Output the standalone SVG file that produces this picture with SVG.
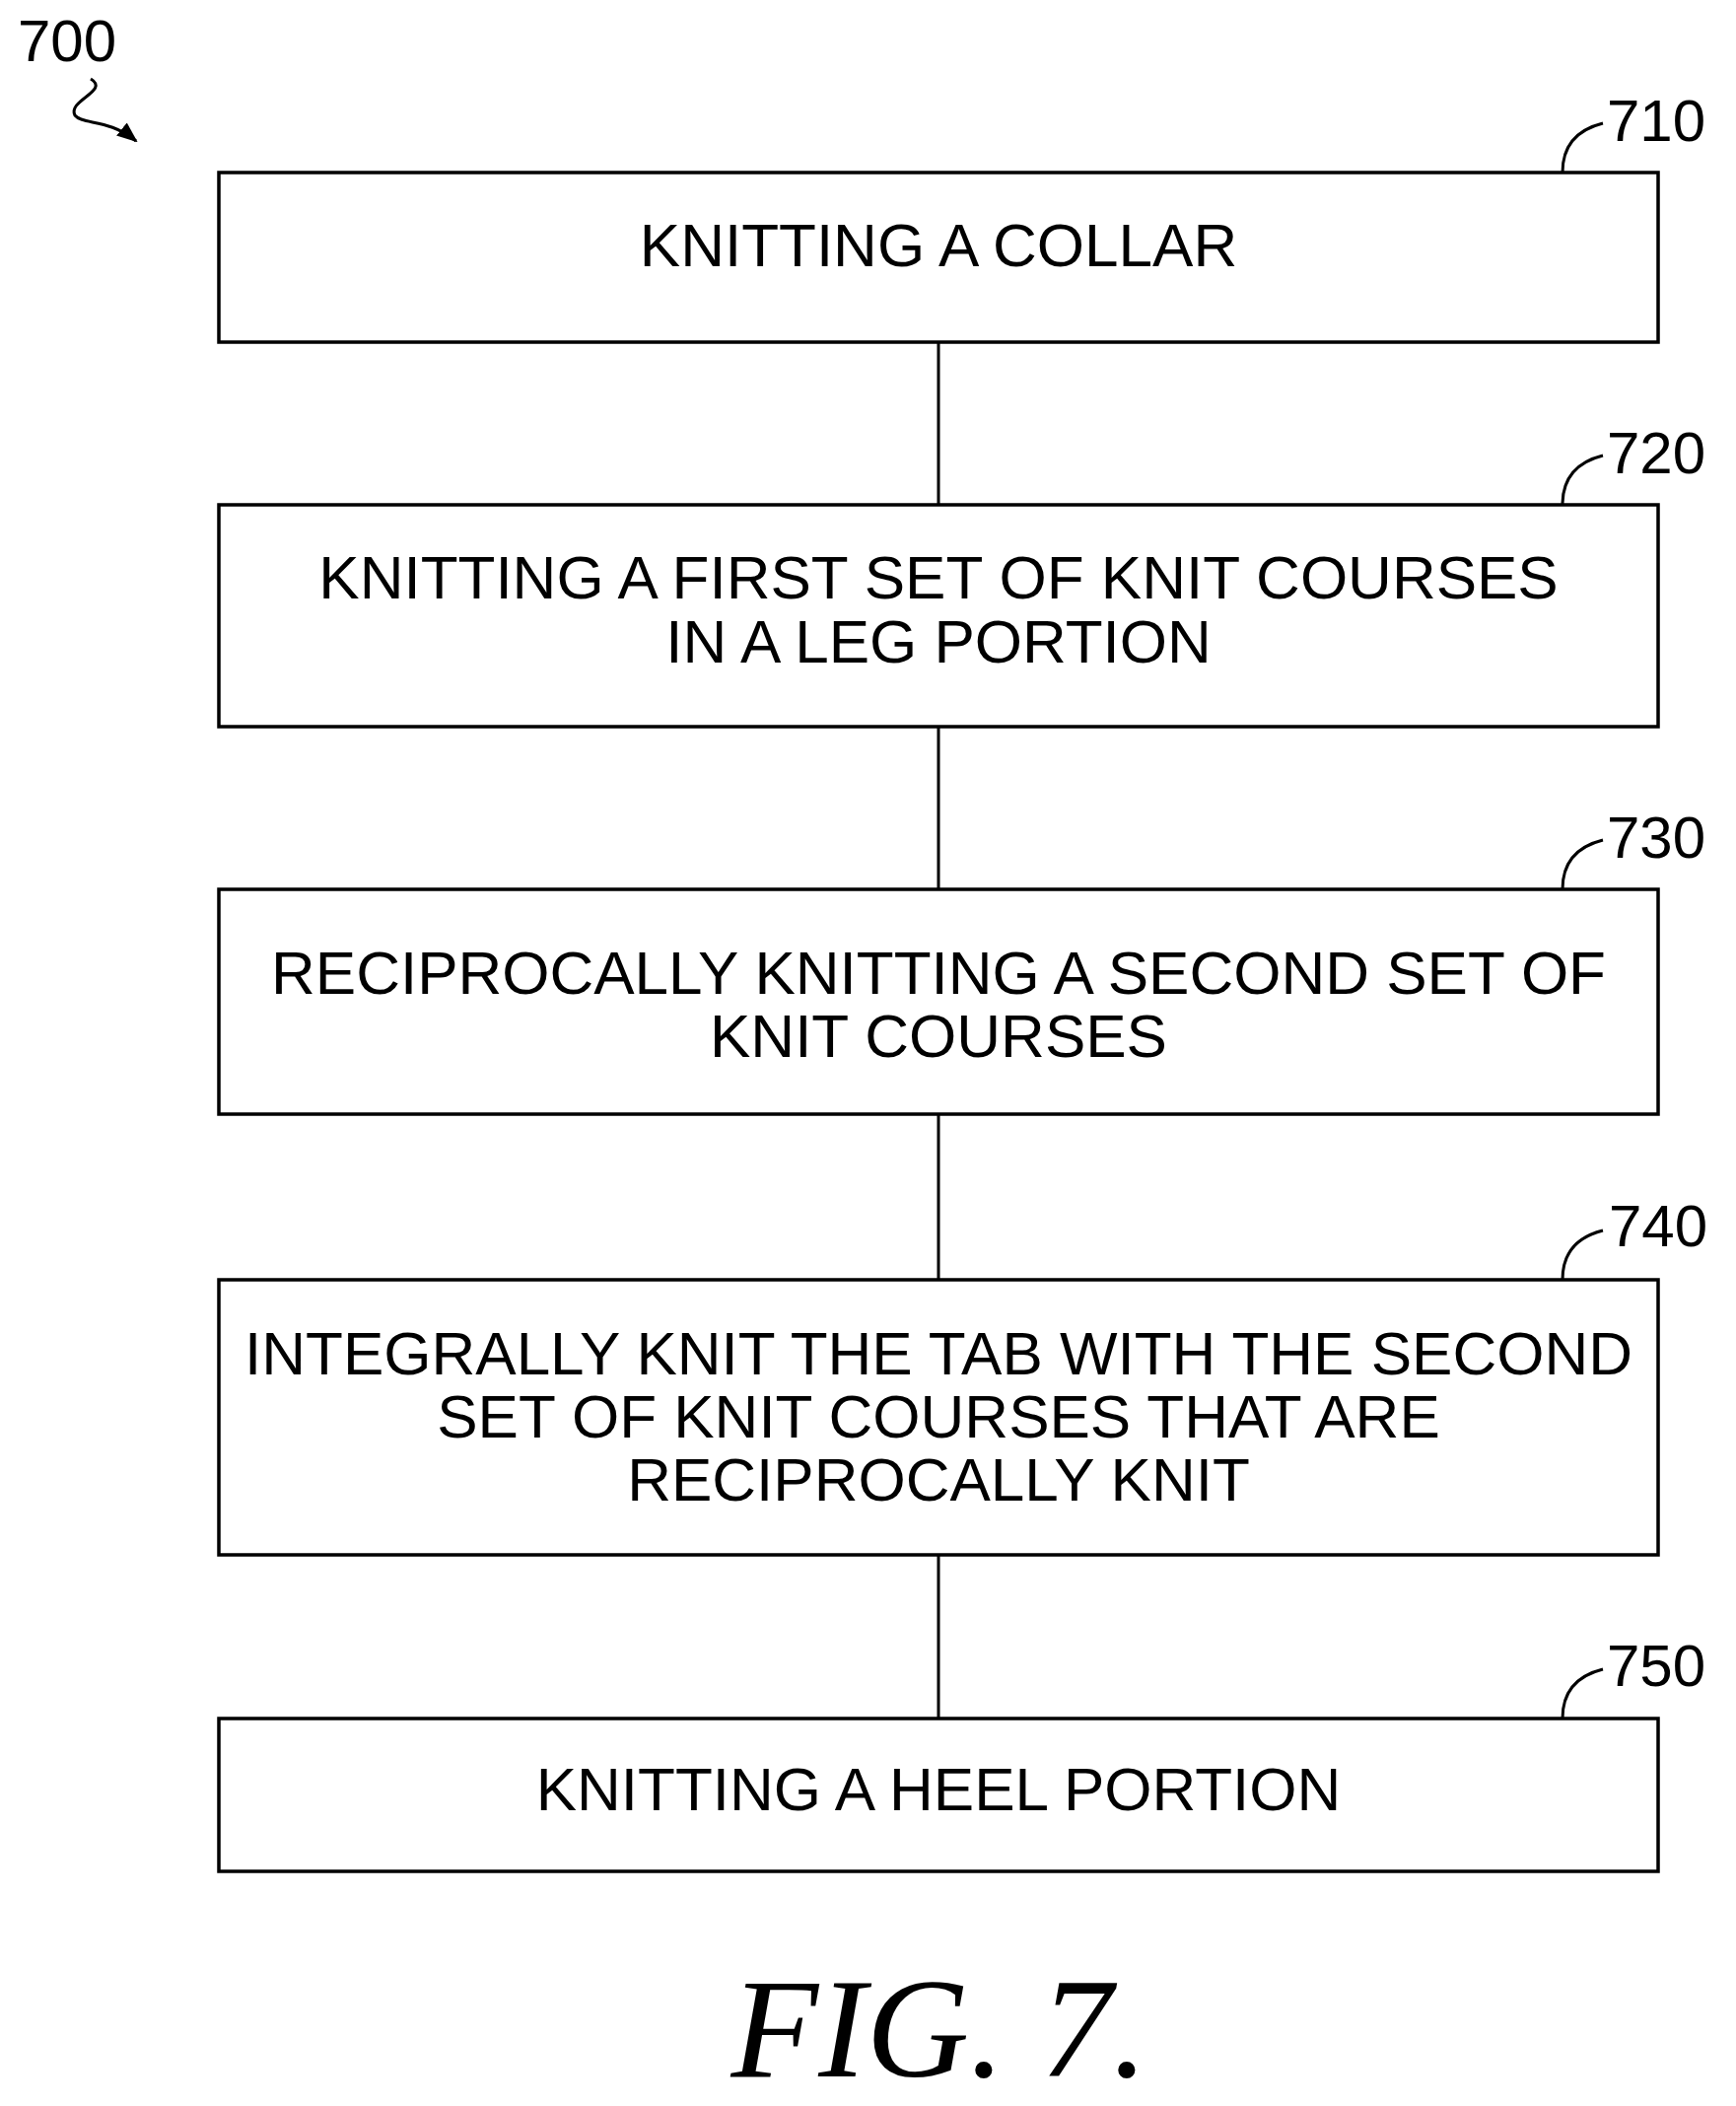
<svg xmlns="http://www.w3.org/2000/svg" width="1761" height="2136" viewBox="0 0 1761 2136">
<style>
.box{fill:#fff;stroke:#000;stroke-width:3.5}
.t{font-family:"Liberation Sans",Arial,sans-serif;font-size:62px;text-anchor:middle;fill:#000}
.n{font-family:"Liberation Sans",Arial,sans-serif;font-size:60px;fill:#000}
.c{fill:none;stroke:#000;stroke-width:3}
</style>
<defs><marker id="ah" viewBox="0 0 10 10" refX="9" refY="5" markerWidth="7" markerHeight="7" orient="auto"><path d="M0,1 L10,5 L0,9 Z" fill="#000"/></marker></defs>
<rect width="1761" height="2136" fill="#fff"/>
<g id="connectors">
<line class="c" x1="952" y1="347" x2="952" y2="512"/>
<line class="c" x1="952" y1="737" x2="952" y2="902"/>
<line class="c" x1="952" y1="1130" x2="952" y2="1298"/>
<line class="c" x1="952" y1="1577" x2="952" y2="1743"/>
</g>
<g id="ref700">
<text class="n" x="18" y="62">700</text>
<path class="c" d="M92,80 C112,92 68,102 76,117 C84,127 110,120 138,143" marker-end="url(#ah)"/>
</g>
<g id="n710"><rect class="box" x="222" y="175" width="1460" height="172"/><text class="t" x="952" y="270">KNITTING A COLLAR</text>
<path class="c" d="M1585,175 C1585,150 1598,132 1626,125"/><text class="n" x="1630" y="143">710</text></g>
<g id="n720"><rect class="box" x="222" y="512" width="1460" height="225"/><text class="t" x="952" y="607">KNITTING A FIRST SET OF KNIT COURSES</text><text class="t" x="952" y="672">IN A LEG PORTION</text>
<path class="c" d="M1585,512 C1585,487 1598,469 1626,462"/><text class="n" x="1630" y="480">720</text></g>
<g id="n730"><rect class="box" x="222" y="902" width="1460" height="228"/><text class="t" x="952" y="1008">RECIPROCALLY KNITTING A SECOND SET OF</text><text class="t" x="952" y="1072">KNIT COURSES</text>
<path class="c" d="M1585,902 C1585,877 1598,859 1626,852"/><text class="n" x="1630" y="870">730</text></g>
<g id="n740"><rect class="box" x="222" y="1298" width="1460" height="279"/><text class="t" x="952" y="1394">INTEGRALLY KNIT THE TAB WITH THE SECOND</text><text class="t" x="952" y="1458">SET OF KNIT COURSES THAT ARE</text><text class="t" x="952" y="1522">RECIPROCALLY KNIT</text>
<path class="c" d="M1585,1298 C1585,1273 1598,1255 1626,1248"/><text class="n" x="1632" y="1264">740</text></g>
<g id="n750"><rect class="box" x="222" y="1743" width="1460" height="155"/><text class="t" x="952" y="1836">KNITTING A HEEL PORTION</text>
<path class="c" d="M1585,1743 C1585,1718 1598,1700 1626,1693"/><text class="n" x="1630" y="1710">750</text></g>
<text x="953" y="2106" font-family="'Liberation Serif','Times New Roman',serif" font-style="italic" font-size="145" text-anchor="middle">FIG. 7.</text>
</svg>
